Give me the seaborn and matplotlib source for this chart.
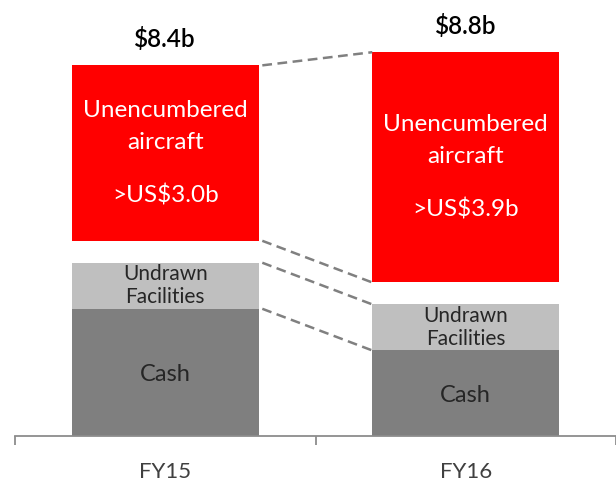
#!/usr/bin/env python3
"""
Liquidity build-up FY15 vs FY16: cash, undrawn facilities and
unencumbered aircraft, drawn as gapped stacked bars with dashed
connector lines between the two years.
"""

import numpy as np
import matplotlib
matplotlib.use("Agg")
import matplotlib.pyplot as plt
import seaborn as sns

# Data (US$ b)
years = ["FY15", "FY16"]
cash = [2.9, 1.95]
undrawn = [1.05, 1.05]
gap = [0.5, 0.5]          # white space between facilities and aircraft
aircraft = [4.0, 5.25]
total_labels = ["$8.4b", "$8.8b"]
aircraft_labels = [">US$3.0b", ">US$3.9b"]

# Colours
RED = "#FF0000"
LIGHT = "#BFBFBF"
DARK = "#7F7F7F"
TEXT_DARK = "#262626"
AXIS = "#8C8C8C"
BAR_WIDTH = 0.622

sns.set_style("white")
plt.rcParams["font.family"] = ["Lato", "DejaVu Sans"]

fig = plt.figure(figsize=(6.16, 4.79), dpi=100)
ax = fig.add_axes([15 / 616, 43 / 479, 601 / 616, 436 / 479])

cash = np.array(cash)
undrawn = np.array(undrawn)
gap = np.array(gap)
aircraft = np.array(aircraft)

undrawn_bottom = cash
aircraft_bottom = cash + undrawn + gap
tops = aircraft_bottom + aircraft

bar_kw = dict(width=BAR_WIDTH, saturation=1, errorbar=None, linewidth=0, ax=ax)
sns.barplot(x=years, y=cash, color=DARK, **bar_kw)
sns.barplot(x=years, y=undrawn, color=LIGHT, bottom=undrawn_bottom, **bar_kw)
sns.barplot(x=years, y=aircraft, color=RED, bottom=aircraft_bottom, **bar_kw)

ax.set_xlim(-0.5, 1.5)
ax.set_ylim(0, 9.94)

# Dashed connectors between the two bars
x0 = 0 + BAR_WIDTH / 2
x1 = 1 - BAR_WIDTH / 2
for lvl in [tops, aircraft_bottom, cash + undrawn, cash]:
    ax.plot([x0 + 0.012, x1], [lvl[0], lvl[1]], color="#808080", lw=1.8,
            dashes=(3.9, 2.2), solid_capstyle="butt", zorder=3)

# Text inside the segments
for i in range(len(years)):
    mid = aircraft_bottom[i] + aircraft[i] / 2
    for txt, dy in [("Unencumbered", 30.6), ("aircraft", 7.6), (aircraft_labels[i], -30.6)]:
        ax.annotate(txt, xy=(i, mid), xytext=(0, dy), textcoords="offset points",
                    ha="center", va="center", color="white", fontsize=17.5)

    mid = undrawn_bottom[i] + undrawn[i] / 2
    for txt, dy in [("Undrawn", 8.3), ("Facilities", -8.3)]:
        ax.annotate(txt, xy=(i, mid), xytext=(0, dy), textcoords="offset points",
                    ha="center", va="center", color=TEXT_DARK, fontsize=15)

    ax.annotate("Cash", xy=(i, cash[i] / 2), xytext=(0, -1.5), textcoords="offset points",
                ha="center", va="center", color=TEXT_DARK, fontsize=17)

    ax.annotate(total_labels[i], xy=(i, tops[i]), xytext=(0, 19), textcoords="offset points",
                ha="center", va="center", color="black", fontsize=17.5, fontweight="semibold")

# Axis styling: only the baseline with category-boundary ticks
for side in ["left", "top", "right"]:
    ax.spines[side].set_visible(False)
ax.spines["bottom"].set_color(AXIS)
ax.spines["bottom"].set_linewidth(1.3)
ax.set_yticks([])
ax.set_xticks([0, 1])
ax.set_xticklabels(years)
ax.set_xticks([-0.5, 0.5, 1.5], minor=True)
ax.tick_params(axis="x", which="both", bottom=True)
ax.tick_params(axis="x", which="major", length=0, pad=18.5, labelsize=16, labelcolor="#404040")
ax.tick_params(axis="x", which="minor", length=6.5, width=1.3, color=AXIS, direction="out")
ax.set_xlabel("")
ax.set_ylabel("")

fig.savefig("out.png", dpi=100)
